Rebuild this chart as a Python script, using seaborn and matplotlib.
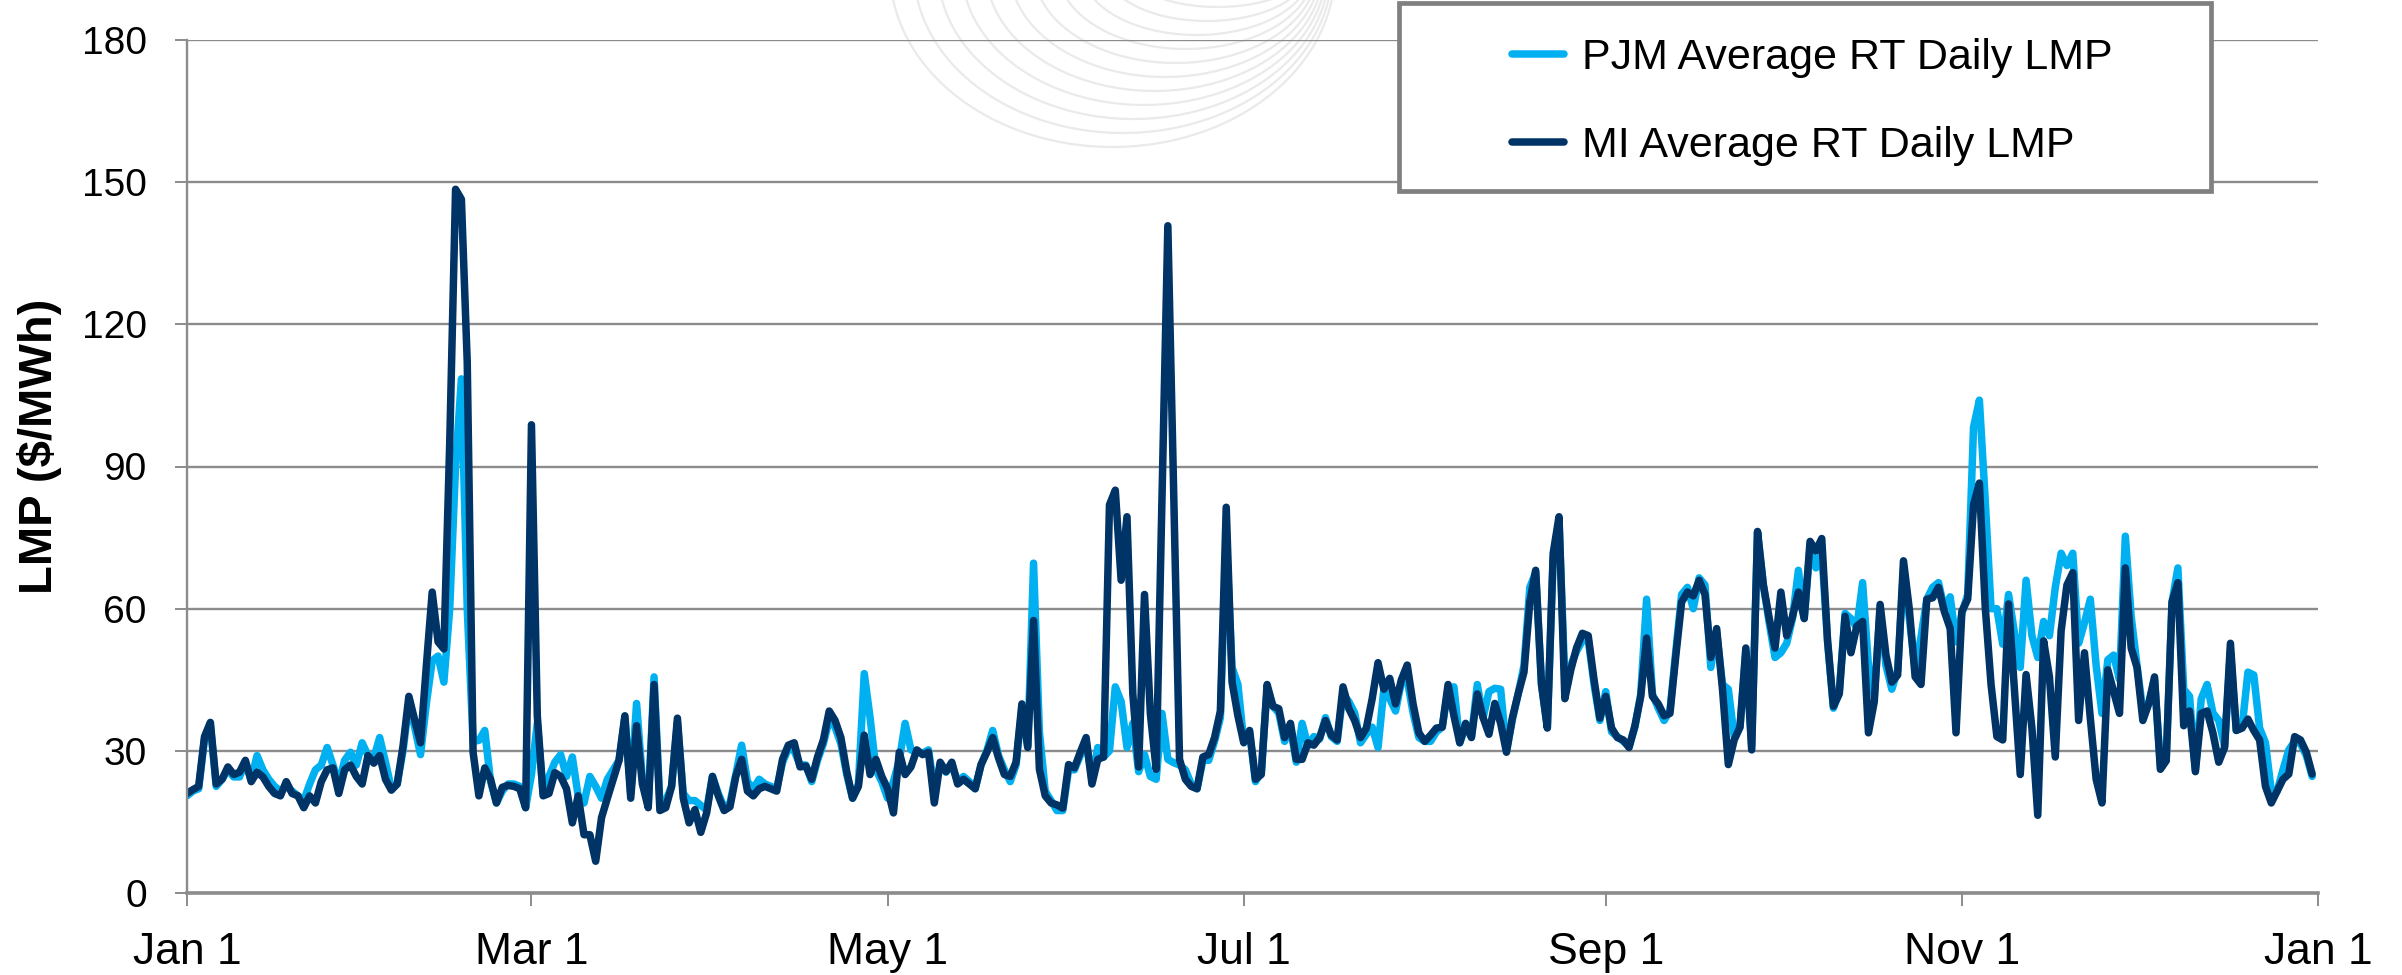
import numpy as np
import pandas as pd
import seaborn as sns
import matplotlib.pyplot as plt
from matplotlib.lines import Line2D
from matplotlib.patches import Rectangle

# Daily real-time LMP ($/MWh), Jan 1 - Dec 31
start_date = '2019-01-01'
series_names = ['PJM Average RT Daily LMP', 'MI Average RT Daily LMP']
series_colors = ['#00B0F0', '#003366']

pjm_lmp = [
    20.5, 21.5, 22.0, 32.5, 35.5, 22.5, 24.0, 26.0, 24.5, 24.5,
    27.5, 24.0, 29.0, 26.0, 24.0, 22.5, 21.5, 22.5, 21.5, 20.5,
    19.5, 23.0, 26.0, 27.0, 30.7, 27.0, 23.0, 28.0, 29.7, 27.0,
    31.7, 29.0, 28.5, 32.8, 27.6, 22.0, 23.0, 30.0, 40.0, 35.0,
    29.2, 40.0, 49.0, 50.0, 44.5, 60.0, 90.0, 108.5, 60.0, 32.0,
    32.2, 34.3, 23.5, 19.0, 21.5, 23.0, 23.0, 22.5, 18.0, 25.0,
    35.8, 21.0, 24.6, 27.6, 29.2, 24.6, 28.7, 20.5, 19.0, 24.6,
    22.5, 20.0, 24.0, 26.0, 28.0, 37.0, 21.0, 40.0, 24.0, 18.5,
    45.6, 19.0, 19.5, 22.5, 36.0, 21.0, 19.5, 19.5, 18.5, 17.5,
    24.6, 21.0, 18.0, 19.0, 25.0, 31.2, 23.5, 22.0, 24.0, 23.0,
    22.5, 22.0, 27.5, 30.5, 30.0, 27.0, 27.0, 23.5, 28.0, 31.5,
    36.5, 35.0, 31.5, 25.0, 20.0, 23.0, 46.3, 37.0, 26.0, 23.5,
    20.0, 23.5, 28.0, 35.8, 30.2, 29.7, 29.5, 30.2, 22.0, 27.0,
    25.5, 27.0, 23.5, 24.6, 23.5, 22.0, 27.0, 30.0, 34.3, 29.0,
    26.0, 23.5, 27.0, 39.0, 31.0, 69.6, 34.0, 21.5, 19.5, 17.4,
    17.4, 26.0, 26.0, 29.0, 32.0, 24.0, 30.7, 28.7, 30.0, 43.5,
    40.4, 30.7, 35.8, 25.6, 29.2, 24.6, 24.0, 37.9, 28.2, 27.5,
    27.0, 26.0, 23.0, 22.0, 28.0, 28.0, 32.0, 37.0, 75.0, 47.6,
    44.0, 32.0, 34.0, 23.5, 25.5, 43.0, 39.4, 38.0, 32.0, 35.0,
    27.6, 35.8, 31.0, 33.0, 32.5, 37.0, 33.0, 32.0, 42.0, 40.4,
    38.0, 31.7, 33.5, 35.0, 30.7, 43.0, 41.0, 38.4, 44.5, 45.0,
    38.0, 32.8, 32.0, 32.0, 34.0, 35.0, 43.0, 43.5, 31.7, 35.0,
    33.0, 44.0, 37.0, 42.5, 43.2, 43.0, 30.0, 36.5, 42.0, 48.0,
    64.5, 67.6, 44.0, 35.0, 70.5, 78.5, 45.0, 48.0, 51.0, 53.2,
    53.5, 44.0, 36.4, 42.5, 34.0, 33.0, 32.0, 31.0, 35.0, 42.0,
    62.0, 42.0, 39.0, 36.4, 38.5, 51.0, 63.0, 64.5, 60.0, 66.5,
    65.0, 47.6, 55.0, 44.0, 43.0, 33.0, 35.0, 51.0, 31.0, 76.0,
    65.0, 57.0, 49.7, 50.7, 52.7, 58.0, 68.1, 58.0, 73.0, 68.6,
    72.0, 53.0, 39.0, 42.5, 59.0, 57.9, 56.0, 65.5, 48.0, 41.5,
    60.0, 48.0, 43.0, 47.0, 68.0, 58.0, 47.0, 54.0, 62.0, 64.5,
    65.5, 60.0, 62.5, 53.0, 59.0, 63.0, 98.3, 104.0, 83.0, 60.0,
    60.0, 52.5, 63.0, 55.0, 47.6, 66.0, 54.3, 49.7, 57.3, 54.3,
    64.5, 71.7, 69.1, 71.7, 52.7, 57.0, 62.0, 48.0, 37.9, 49.2,
    50.2, 45.0, 75.3, 58.4, 48.0, 38.4, 40.0, 45.0, 27.0, 28.0,
    61.4, 68.6, 43.0, 41.5, 26.0, 41.0, 44.0, 38.0, 36.4, 31.0,
    51.0, 34.3, 35.0, 46.6, 46.0, 34.8, 31.7, 21.5, 21.5, 26.0,
    30.2, 32.0, 31.5, 29.0, 24.6,
]

mi_lmp = [
    21.0, 21.8, 22.5, 33.0, 36.0, 23.0, 24.0, 26.6, 25.0, 25.5,
    28.0, 23.5, 25.5, 24.5, 22.5, 21.0, 20.5, 23.5, 21.0, 20.5,
    18.0, 20.5, 19.0, 23.5, 26.0, 26.4, 21.0, 26.0, 27.0, 24.6,
    23.0, 29.0, 27.4, 29.0, 24.0, 21.7, 23.0, 31.0, 41.5, 36.5,
    31.7, 48.0, 63.5, 53.0, 51.5, 95.0, 148.5, 146.4, 112.0, 29.7,
    20.5, 26.4, 24.0, 19.0, 22.3, 22.7, 22.5, 22.0, 18.0, 98.8,
    37.4, 20.5, 21.0, 25.4, 24.6, 22.0, 14.8, 20.5, 12.3, 12.3,
    6.7, 15.9, 20.0, 24.0, 28.0, 37.4, 20.0, 35.3, 23.0, 18.0,
    44.0, 17.4, 18.0, 22.5, 36.9, 20.0, 14.8, 17.6, 12.8, 16.9,
    24.6, 20.5, 17.4, 18.2, 24.6, 28.2, 21.5, 20.5, 22.0, 22.5,
    22.0, 21.5, 28.2, 31.2, 31.7, 26.6, 26.8, 24.0, 28.7, 32.3,
    38.4, 36.4, 32.8, 25.6, 20.0, 22.5, 33.3, 25.0, 28.2, 24.6,
    22.0, 16.9, 29.7, 25.0, 26.6, 30.2, 29.2, 29.7, 19.0, 27.6,
    25.6, 27.6, 23.0, 24.0, 23.0, 22.0, 27.1, 29.7, 32.8, 28.5,
    25.0, 24.6, 27.6, 39.9, 30.7, 57.5, 26.1, 20.5, 19.0, 18.6,
    17.9, 27.1, 26.4, 29.7, 32.8, 23.0, 28.2, 28.7, 81.9, 85.0,
    66.0, 79.4, 42.0, 26.6, 63.0, 37.9, 26.1, 83.0, 140.8, 84.0,
    28.2, 24.0, 22.5, 22.0, 28.7, 29.2, 32.8, 38.4, 81.4, 44.5,
    37.4, 31.7, 34.3, 24.0, 25.0, 44.0, 39.4, 38.9, 32.8, 35.8,
    28.2, 28.2, 31.7, 31.2, 32.8, 36.4, 33.3, 32.3, 43.5, 38.9,
    36.4, 32.8, 34.8, 41.0, 48.6, 43.0, 45.3, 39.9, 45.0, 48.1,
    39.9, 33.8, 32.0, 33.3, 34.8, 35.0, 44.0, 37.4, 31.7, 35.8,
    32.8, 42.0, 37.0, 33.5, 40.0, 35.8, 29.7, 36.9, 42.0, 46.6,
    61.4, 68.1, 44.0, 34.8, 71.7, 79.4, 41.0, 47.0, 51.7, 54.8,
    54.3, 45.0, 36.9, 41.5, 34.8, 32.8, 32.3, 30.7, 35.3, 41.5,
    53.8, 41.5, 39.9, 37.4, 37.9, 50.0, 61.4, 63.5, 62.7, 66.0,
    63.0, 49.7, 55.8, 43.0, 27.1, 32.3, 35.0, 51.7, 30.2, 76.3,
    65.0, 58.0, 51.7, 63.5, 54.3, 58.4, 63.5, 57.9, 74.2, 72.2,
    74.8, 53.2, 39.4, 42.0, 58.4, 50.7, 56.3, 57.3, 33.8, 40.4,
    60.9, 50.2, 44.5, 46.0, 70.1, 59.9, 45.6, 44.0, 62.0, 62.3,
    64.5, 59.4, 55.8, 33.8, 59.4, 62.0, 81.9, 86.5, 60.4, 44.0,
    33.0, 32.3, 61.0, 43.0, 25.0, 46.1, 34.8, 16.4, 53.2, 45.6,
    28.7, 55.3, 65.0, 67.6, 36.4, 50.7, 36.9, 24.0, 19.0, 47.1,
    42.5, 37.9, 68.6, 51.7, 47.6, 36.4, 39.9, 45.6, 26.1, 27.9,
    61.4, 65.5, 35.3, 38.4, 25.6, 37.9, 38.4, 33.8, 27.6, 30.7,
    52.7, 34.3, 34.8, 36.7, 34.3, 32.3, 22.5, 19.0, 21.5, 24.0,
    25.1, 33.0, 32.3, 29.7, 25.1,
]

tick_dates = ['2019-01-01', '2019-03-01', '2019-05-01', '2019-07-01',
              '2019-09-01', '2019-11-01', '2020-01-01']
tick_labels = ['Jan 1', 'Mar 1', 'May 1', 'Jul 1', 'Sep 1', 'Nov 1', 'Jan 1']
y_ticks = [0, 30, 60, 90, 120, 150, 180]

days = pd.date_range(start_date, periods=len(mi_lmp), freq='D')
df = pd.DataFrame({
    'date': np.concatenate([days, days]),
    'lmp': pjm_lmp + mi_lmp,
    'series': [series_names[0]] * len(days) + [series_names[1]] * len(days),
})

sns.set_style('white')
plt.rcParams['font.family'] = ['Liberation Sans', 'DejaVu Sans']
plt.rcParams['text.color'] = 'black'

W, H = 2402, 975
fig = plt.figure(figsize=(W / 100, H / 100), dpi=100)

# faint logo watermark behind the plot (decoration only)
wm = fig.add_axes([0, 0, 1, 1])
wm.set_xlim(0, W)
wm.set_ylim(H, 0)
wm.axis('off')
t = np.linspace(0, np.pi, 200)
for i in range(11):
    xl = 890 + 24 * i
    xr = 1335 - 3 * i
    yb = 147 - 14 * i
    a = (xr - xl) / 2
    wm.plot((xl + xr) / 2 + a * np.cos(t), -30 + (yb + 30) * np.sin(t),
            color='#eaeaea', lw=1.6)

# main axes
ax = fig.add_axes([187 / W, 1 - 893 / H, (2318 - 187) / W, (893 - 40) / H])
ax.patch.set_alpha(0)

sns.lineplot(data=df, x='date', y='lmp', hue='series', hue_order=series_names,
             palette=series_colors, estimator=None, linewidth=5.4,
             solid_capstyle='round', solid_joinstyle='round',
             legend=False, ax=ax)

ax.set_xlim(pd.Timestamp(tick_dates[0]), pd.Timestamp(tick_dates[-1]))
ax.set_xticks(pd.to_datetime(tick_dates))
ax.set_xticklabels(tick_labels)
ax.set_ylim(y_ticks[0], y_ticks[-1])
ax.set_yticks(y_ticks)

ax.yaxis.grid(True, color='#8c8c8c', lw=1.7)
ax.xaxis.grid(False)
ax.set_axisbelow(True)
for side in ['top', 'right']:
    ax.spines[side].set_visible(False)
ax.spines['left'].set_color('#8c8c8c')
ax.spines['left'].set_linewidth(1.7)
ax.spines['bottom'].set_color('#8c8c8c')
ax.spines['bottom'].set_linewidth(2.6)

ax.tick_params(axis='y', direction='out', length=9, width=1.4, color='#8c8c8c',
               labelsize=28, labelcolor='black', pad=20, left=True)
ax.tick_params(axis='x', direction='out', length=9, width=1.4, color='#8c8c8c',
               labelsize=32, labelcolor='black', pad=19, bottom=True)

ax.set_xlabel('')
ax.set_ylabel('LMP ($/MWh)', fontsize=34, fontweight='bold', color='black')
ax.yaxis.set_label_coords((62 - 187) / (2318 - 187), (893 - 446) / (893 - 40))

# legend box
box = Rectangle((1399 / W, 1 - 191 / H), 812 / W, 188 / H, transform=fig.transFigure,
                facecolor='white', edgecolor='#808080', lw=3.4, zorder=3)
fig.add_artist(box)

handles = [Line2D([0], [0], color=c, lw=5.4, solid_capstyle='round') for c in series_colors]
fig.legend(handles, series_names, loc='center left',
           bbox_to_anchor=(1512 / W, 1 - 102 / H), frameon=False, fontsize=31,
           labelcolor='black', handlelength=1.2, handletextpad=0.42,
           labelspacing=1.12, borderpad=0, borderaxespad=0)

fig.savefig('out.png', dpi=100)
